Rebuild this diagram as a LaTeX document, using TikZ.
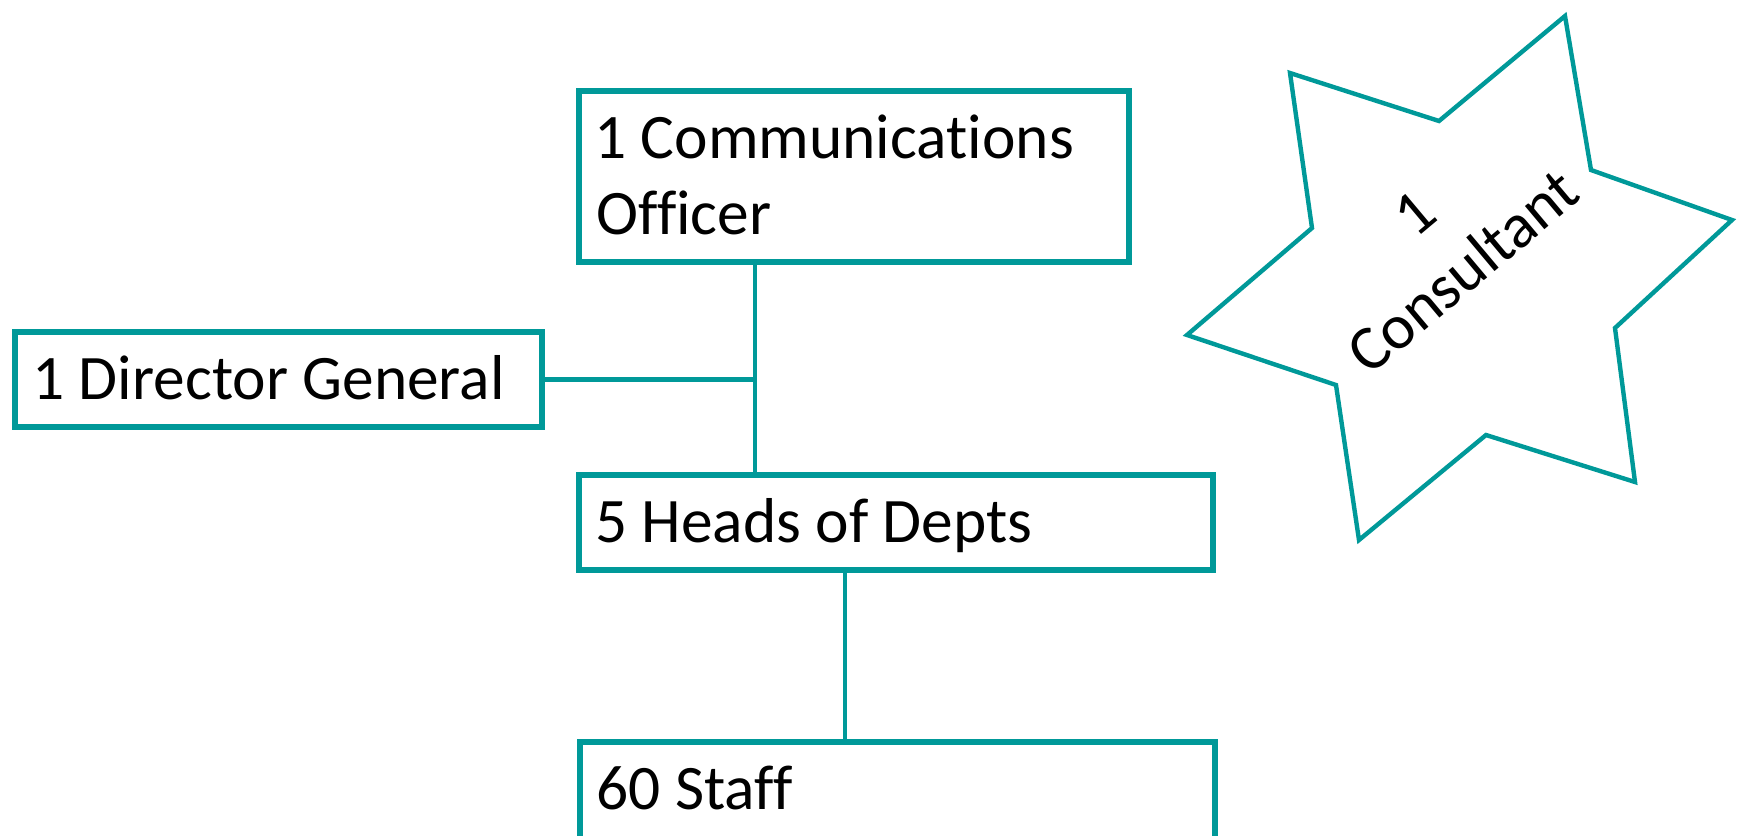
\documentclass[tikz,border=0pt]{standalone}
\usepackage{fontspec}
\setmainfont{Carlito}[Ligatures=CommonOff]
\usetikzlibrary{fit}
\definecolor{tealc}{RGB}{0,153,153}
\begin{document}
\begin{tikzpicture}[x=0.5pt,y=-0.5pt,
  box/.style={draw=tealc, line width=2.6pt, inner sep=0pt, fill=white},
  link/.style={draw=tealc, line width=2.3pt},
  starline/.style={draw=tealc, line width=2.2pt, line join=miter},
  txt/.style={font=\fontsize{31.7}{38}\selectfont, inner sep=0pt, anchor=base west}]
\useasboundingbox (0,0) rectangle (1737,836);
\clip (0,0) rectangle (1737,836);
% boxes
\node[box, fit={(579,91) (1129,262)}] (comm) {};
\node[box, fit={(15,332) (542,427)}] (dg) {};
\node[box, fit={(579,475) (1213,570)}] (heads) {};
\node[box, fit={(580,742) (1215,845)}] (staff) {};
% connectors
\coordinate (j) at (755,379.5);
\coordinate (k) at (845,0);
\draw[link] (comm.south -| j) -- (heads.north -| j);
\draw[link] (dg.east) -- (j);
\draw[link] (heads.south -| k) -- (staff.north -| k);
% labels
\node[txt] (t1) at (594,158) {1 Communications};
\node[txt] (t2) at (596,234) {Officer};
\node[txt] (t3) at (32,399) {1 Director General};
\node[txt] (t4) at (595,542) {5 Heads of Depts};
\node[txt] (t5) at (596,809) {60 Staff};
% star
\draw[starline] (1565,16) -- (1439,121) -- (1290,73) -- (1312,228) -- (1187,335)
  -- (1336,385) -- (1359,540) -- (1486,435) -- (1635,482) -- (1615,328)
  -- (1732,220) -- (1591,170) -- cycle;
\node[txt, anchor=center, align=center, rotate=40] (cons) at (1439,243) {1\\Consultant};
\end{tikzpicture}
\end{document}
